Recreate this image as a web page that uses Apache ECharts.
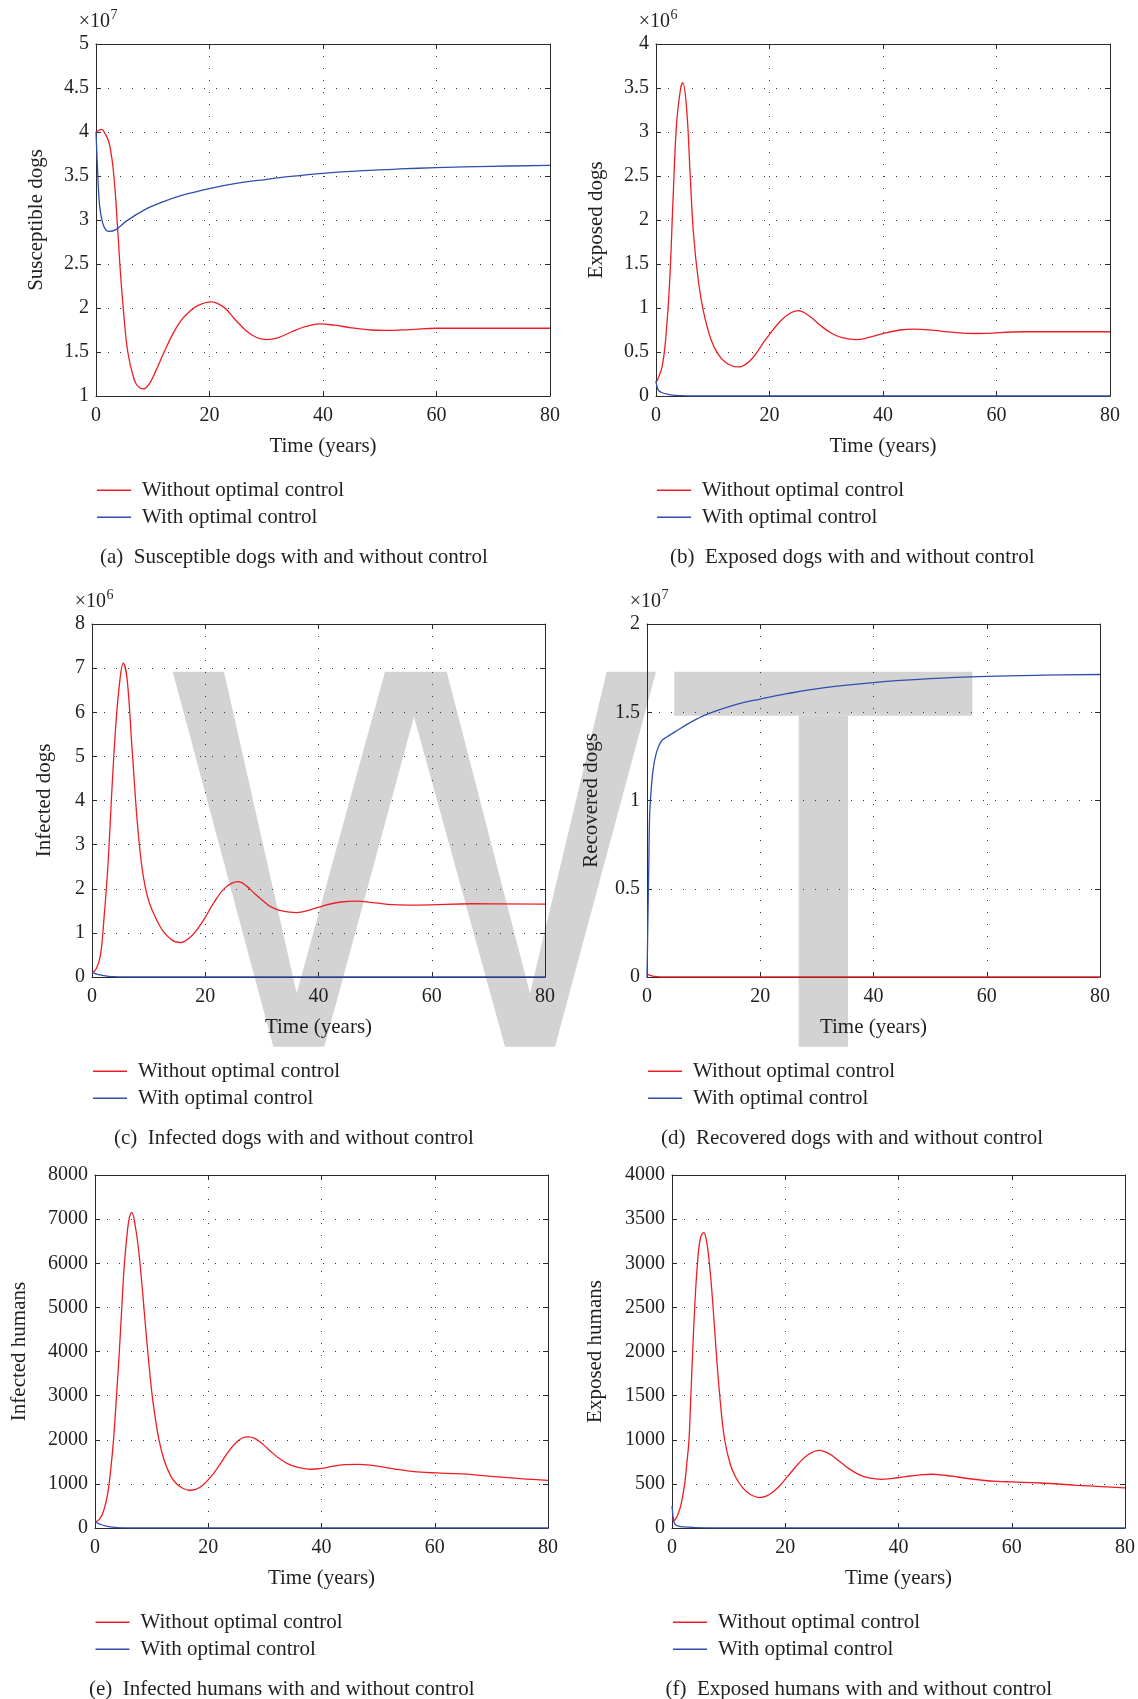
<!DOCTYPE html>
<html>
<head>
<meta charset="utf-8">
<script src="https://cdn.jsdelivr.net/npm/echarts@6/dist/echarts.min.js"></script>
<style>
  html, body { margin: 0; padding: 0; background: #ffffff; }
  #chart { width: 1138px; height: 1699px; }
</style>
</head>
<body>
<div id="chart"></div>
<script>
// ---------------------------------------------------------------
// Model output, 0–80 years. Each curve has its own time samples.
// ---------------------------------------------------------------
const xTicks = [0, 20, 40, 60, 80];
const seriesNames = ['Without optimal control', 'With optimal control'];

// (a) Susceptible dogs, in units of 10^7
const susT_without = [0, 1, 1.6, 2.2, 2.6, 3.0, 3.5, 4.2, 4.8, 5.6, 6.7, 7.4, 8.3, 9.3, 10.5, 12, 13.5, 15, 16.5, 18, 20.2, 22.5, 24.5, 26.5, 28.3, 30.1, 32, 34.5, 37, 39.4, 42, 45, 48.5, 51, 55.4, 60, 66, 80];
const susV_without = [4.0, 4.03, 3.98, 3.9, 3.78, 3.6, 3.22, 2.5, 2.0, 1.5, 1.19, 1.11, 1.08, 1.13, 1.28, 1.5, 1.7, 1.86, 1.96, 2.03, 2.07, 2.01, 1.87, 1.74, 1.665, 1.64, 1.66, 1.73, 1.79, 1.82, 1.805, 1.775, 1.75, 1.745, 1.755, 1.77, 1.77, 1.77];
const susT_with = [0, 0.3, 0.64, 1.15, 1.7, 2.2, 3.5, 5.4, 8.7, 11.9, 15.1, 20.2, 24.7, 29.8, 34.3, 40, 47, 53.5, 60, 69.6, 80];
const susV_with = [4.0, 3.54, 3.16, 2.97, 2.89, 2.87, 2.89, 2.99, 3.12, 3.21, 3.28, 3.36, 3.415, 3.46, 3.495, 3.53, 3.56, 3.58, 3.595, 3.61, 3.62];

// (b) Exposed dogs, in units of 10^6
const expDogT_without = [0, 0.5, 1.1, 1.7, 2.4, 3.0, 3.6, 4.3, 4.7, 5.4, 6.0, 6.6, 7.5, 8.4, 9.7, 11, 12.5, 14.5, 16.7, 19.3, 21.9, 23.6, 25, 27, 29, 31, 33, 35.3, 37.5, 40, 43, 45.5, 49, 52, 56.4, 64.7, 80];
const expDogV_without = [0.15, 0.22, 0.34, 0.64, 1.29, 2.23, 3.07, 3.48, 3.56, 3.26, 2.54, 1.85, 1.29, 0.95, 0.64, 0.47, 0.37, 0.33, 0.41, 0.64, 0.85, 0.94, 0.97, 0.91, 0.80, 0.71, 0.66, 0.64, 0.665, 0.71, 0.75, 0.76, 0.745, 0.725, 0.71, 0.73, 0.73];
const expDogT_with = [0, 0.2, 0.5, 1, 2, 3, 4, 6, 80];
const expDogV_with = [0.17, 0.1, 0.06, 0.04, 0.02, 0.01, 0.005, 0, 0];

// (c) Infected dogs, in units of 10^6
const infDogT_without = [0, 0.8, 1.5, 2.1, 2.8, 3.5, 4.2, 4.9, 5.5, 6.2, 7.05, 8.4, 9.8, 12.05, 14, 15.6, 17.5, 19.5, 21.5, 23.5, 25.8, 27.3, 28.7, 30.2, 31.6, 33.5, 36.1, 38.5, 41, 44, 46.7, 50, 53, 57.6, 67.2, 80];
const infDogV_without = [0.09, 0.2, 0.5, 1.3, 2.5, 4.2, 5.7, 6.7, 7.11, 6.75, 5.22, 2.95, 1.82, 1.14, 0.85, 0.78, 0.92, 1.25, 1.68, 2.02, 2.16, 2.06, 1.89, 1.73, 1.59, 1.5, 1.46, 1.52, 1.62, 1.70, 1.72, 1.68, 1.64, 1.63, 1.66, 1.65];
const infDogT_with = [0, 0.5, 1, 2, 3, 4, 6, 80];
const infDogV_with = [0.1, 0.08, 0.06, 0.03, 0.015, 0.008, 0, 0];

// (d) Recovered dogs, in units of 10^7
const recT_without = [0, 0.5, 1, 2, 3, 80];
const recV_without = [0.015, 0.01, 0.005, 0.002, 0, 0];
const recT_with = [0, 0.15, 0.3, 0.45, 0.6, 1.06, 1.65, 2.5, 3.5, 5, 7, 9, 11.1, 15.8, 20, 24.7, 31.1, 40, 50, 60, 70, 80];
const recV_with = [0, 0.3, 0.6, 0.9, 1.0, 1.17, 1.27, 1.335, 1.36, 1.39, 1.43, 1.465, 1.495, 1.545, 1.575, 1.605, 1.638, 1.668, 1.69, 1.703, 1.71, 1.714];

// (e) Infected humans
const infHumT_without = [0, 0.8, 1.5, 2.2, 2.8, 3.3, 3.8, 4.3, 4.75, 5.2, 5.7, 6.1, 6.5, 7.1, 7.7, 8.3, 8.9, 9.5, 10.1, 10.7, 11.3, 12.2, 13.4, 14.5, 15.5, 16.6, 17.8, 19.2, 20.6, 22, 23.4, 24.8, 26, 27.1, 28.2, 29.5, 31, 32.5, 34, 35.5, 37, 38.1, 40, 42, 44, 46.5, 49, 51, 53, 55.2, 57.5, 60.3, 64.8, 69.9, 75.1, 80];
const infHumV_without = [136, 200, 380, 750, 1350, 2050, 3000, 4000, 5050, 6000, 6700, 7050, 7146, 6850, 6300, 5500, 4600, 3750, 3000, 2450, 2000, 1540, 1170, 990, 900, 856, 875, 990, 1180, 1430, 1700, 1920, 2040, 2064, 2030, 1913, 1740, 1580, 1460, 1385, 1345, 1331, 1350, 1400, 1435, 1444, 1420, 1380, 1335, 1293, 1265, 1248, 1225, 1172, 1119, 1081];
const infHumT_with = [0, 0.5, 1, 2, 3, 5, 8, 80];
const infHumV_with = [140, 110, 80, 40, 20, 5, 0, 0];

// (f) Exposed humans
const expHumT_without = [0, 0.3, 1.1, 1.7, 2.24, 2.6, 3.0, 3.3, 3.65, 4.05, 4.5, 5.0, 5.6, 6.1, 6.6, 7.2, 7.8, 8.5, 9.3, 10.3, 11.3, 12.5, 13.8, 15.5, 17.2, 18.8, 20.5, 22.2, 24, 26, 27.8, 29.5, 31.3, 33.2, 35, 36.9, 39, 41, 43.5, 45.9, 48.5, 50.4, 52.5, 54.8, 57.5, 60, 65.1, 71.5, 80];
const expHumV_without = [100, 85, 163, 300, 500, 720, 1000, 1450, 2000, 2550, 3000, 3280, 3346, 3250, 3000, 2550, 2000, 1450, 1000, 720, 570, 455, 382, 345, 380, 465, 590, 720, 830, 880, 840, 760, 670, 600, 565, 552, 562, 580, 600, 609, 595, 578, 558, 541, 528, 522, 510, 484, 454];
const expHumT_with = [0, 0.1, 0.2, 0.4, 0.7, 1, 2, 4, 8, 80];
const expHumV_with = [250, 180, 120, 60, 35, 25, 12, 5, 1, 0];

// Y tick labels per panel
const yTicksSus = [1, 1.5, 2, 2.5, 3, 3.5, 4, 4.5, 5];
const yTicksExpDog = [0, 0.5, 1, 1.5, 2, 2.5, 3, 3.5, 4];
const yTicksInfDog = [0, 1, 2, 3, 4, 5, 6, 7, 8];
const yTicksRec = [0, 0.5, 1, 1.5, 2];
const yTicksInfHum = [0, 1000, 2000, 3000, 4000, 5000, 6000, 7000, 8000];
const yTicksExpHum = [0, 500, 1000, 1500, 2000, 2500, 3000, 3500, 4000];

const yTitles = ['Susceptible dogs', 'Exposed dogs', 'Infected dogs', 'Recovered dogs', 'Infected humans', 'Exposed humans'];
const exponents = ['7', '6', '6', '7', null, null];
const captions = [
  '(a)  Susceptible dogs with and without control',
  '(b)  Exposed dogs with and without control',
  '(c)  Infected dogs with and without control',
  '(d)  Recovered dogs with and without control',
  '(e)  Infected humans with and without control',
  '(f)  Exposed humans with and without control'
];

const panels = [
  { yTicks: yTicksSus,    without: [susT_without, susV_without],       withCtl: [susT_with, susV_with] },
  { yTicks: yTicksExpDog, without: [expDogT_without, expDogV_without], withCtl: [expDogT_with, expDogV_with] },
  { yTicks: yTicksInfDog, without: [infDogT_without, infDogV_without], withCtl: [infDogT_with, infDogV_with] },
  { yTicks: yTicksRec,    without: [recT_without, recV_without],       withCtl: [recT_with, recV_with] },
  { yTicks: yTicksInfHum, without: [infHumT_without, infHumV_without], withCtl: [infHumT_with, infHumV_with] },
  { yTicks: yTicksExpHum, without: [expHumT_without, expHumV_without], withCtl: [expHumT_with, expHumV_with] }
];

// ---------------------------------------------------------------
// Page layout (pixels) and styling
// ---------------------------------------------------------------
const frames = [
  { left: 96,  top: 44,   width: 454, height: 352, yTitleX: 36,    legendX: 97,   captionX: 100 },
  { left: 656, top: 44,   width: 454, height: 352, yTitleX: 596.5, legendX: 657,  captionX: 670 },
  { left: 92,  top: 624,  width: 453, height: 353, yTitleX: 44.5,  legendX: 93,   captionX: 114 },
  { left: 647, top: 624,  width: 453, height: 353, yTitleX: 591,   legendX: 648,  captionX: 661 },
  { left: 95,  top: 1175, width: 453, height: 353, yTitleX: 19,    legendX: 95.5, captionX: 89 },
  { left: 672, top: 1175, width: 453, height: 353, yTitleX: 595.5, legendX: 673,  captionX: 665.5 }
];

const FONT = '"Liberation Serif", "Times New Roman", serif';
const TEXT = '#231f20';
const FRAME = '#2a2a2a';
const GRID = '#3a3a3a';
const RED = '#ee1d23';
const BLUE = '#2d4fae';

const zip = (t, v) => t.map((x, k) => [x, v[k]]);

const option = {
  animation: false,
  backgroundColor: '#ffffff',
  grid: [], xAxis: [], yAxis: [], series: [], legend: [],
  graphic: []
};

// pale background lettering behind the middle row
option.graphic.push({
  type: 'polygon', z: -10, silent: true,
  shape: { points: [[172.7, 671.7], [224, 671.7], [296.7, 993.3], [385, 671.7], [446.7, 671.7], [530, 993.3], [606.7, 671.7], [656, 671.7], [555, 1046.7], [505, 1046.7], [414, 716.7], [324.3, 1046.7], [273.3, 1046.7]] },
  style: { fill: '#d3d3d3' }
});
option.graphic.push({ type: 'rect', z: -10, silent: true, shape: { x: 674.3, y: 671.7, width: 298, height: 44 }, style: { fill: '#d3d3d3' } });
option.graphic.push({ type: 'rect', z: -10, silent: true, shape: { x: 798.7, y: 715.7, width: 49.3, height: 331 }, style: { fill: '#d3d3d3' } });

panels.forEach((p, i) => {
  const f = frames[i];
  option.grid.push({ left: f.left, top: f.top, width: f.width, height: f.height, containLabel: false, outerBoundsMode: 'none' });

  const axisLine = { show: true, onZero: false, lineStyle: { color: FRAME, width: 1 } };
  const axisTick = { show: true, inside: true, length: 5, lineStyle: { color: FRAME, width: 1 } };
  const labelStyle = { fontFamily: FONT, fontSize: 20, color: TEXT, formatter: v => String(v), showMinLabel: true, showMaxLabel: true, hideOverlap: false };
  const dotted = { show: true, lineStyle: { type: [1, 11], color: GRID, width: 1 } };

  const xBase = { gridIndex: i, type: 'value', min: xTicks[0], max: xTicks[xTicks.length - 1], interval: xTicks[1] - xTicks[0], axisLine, axisTick };
  option.xAxis.push(Object.assign({}, xBase, { position: 'bottom', axisLabel: Object.assign({ show: true, margin: 10 }, labelStyle), splitLine: dotted }));
  option.xAxis.push(Object.assign({}, xBase, { position: 'top', axisLabel: { show: false }, splitLine: { show: false } }));

  const yt = p.yTicks;
  const yBase = { gridIndex: i, type: 'value', min: yt[0], max: yt[yt.length - 1], interval: yt[1] - yt[0], axisLine, axisTick };
  option.yAxis.push(Object.assign({}, yBase, { position: 'left', axisLabel: Object.assign({ show: true, margin: 7 }, labelStyle), splitLine: dotted }));
  option.yAxis.push(Object.assign({}, yBase, { position: 'right', axisLabel: { show: false }, splitLine: { show: false } }));

  const common = { type: 'line', xAxisIndex: 2 * i, yAxisIndex: 2 * i, symbol: 'none', showSymbol: false, smooth: 0.4, z: 3 };
  option.series.push(Object.assign({}, common, {
    name: seriesNames[0], data: zip(p.without[0], p.without[1]),
    lineStyle: { color: RED, width: 1.3 }, itemStyle: { color: RED }
  }));
  option.series.push(Object.assign({}, common, {
    name: seriesNames[1], data: zip(p.withCtl[0], p.withCtl[1]),
    lineStyle: { color: BLUE, width: 1.3 }, itemStyle: { color: BLUE }
  }));

  const bottom = f.top + f.height;

  option.legend.push({
    left: f.legendX, top: bottom + 94.3 - 10.5, orient: 'vertical', padding: 0,
    icon: 'rect', itemGap: 6, itemWidth: 34, itemHeight: 1.5, selectedMode: false,
    data: seriesNames,
    textStyle: { fontFamily: FONT, fontSize: 21, lineHeight: 21, color: TEXT, padding: [0, 0, 0, 6] }
  });

  // axis titles
  option.graphic.push({
    type: 'text', x: f.yTitleX, y: f.top + f.height / 2, rotation: Math.PI / 2,
    style: { text: yTitles[i], fontFamily: FONT, fontSize: 21, fill: TEXT, align: 'center', verticalAlign: 'middle' }
  });
  option.graphic.push({
    type: 'text', x: f.left + f.width / 2, y: bottom + 50.5,
    style: { text: 'Time (years)', fontFamily: FONT, fontSize: 21, fill: TEXT, align: 'center', verticalAlign: 'middle' }
  });

  // power-of-ten multiplier above the y axis
  if (exponents[i]) {
    option.graphic.push({
      type: 'text', x: f.left - 17.2, y: f.top - 22.6,
      style: { text: '\u00d710', fontFamily: FONT, fontSize: 20, fill: TEXT, align: 'left', verticalAlign: 'middle' }
    });
    option.graphic.push({
      type: 'text', x: f.left + 14.5, y: f.top - 29,
      style: { text: exponents[i], fontFamily: FONT, fontSize: 14, fill: TEXT, align: 'left', verticalAlign: 'middle' }
    });
  }

  // sub-figure caption
  option.graphic.push({
    type: 'text', x: f.captionX, y: bottom + 161.6,
    style: { text: captions[i], fontFamily: FONT, fontSize: 21, fill: TEXT, align: 'left', verticalAlign: 'middle' }
  });
});

const chart = echarts.init(document.getElementById('chart'), null, { renderer: 'canvas', width: 1138, height: 1699 });
chart.setOption(option);
</script>
</body>
</html>
